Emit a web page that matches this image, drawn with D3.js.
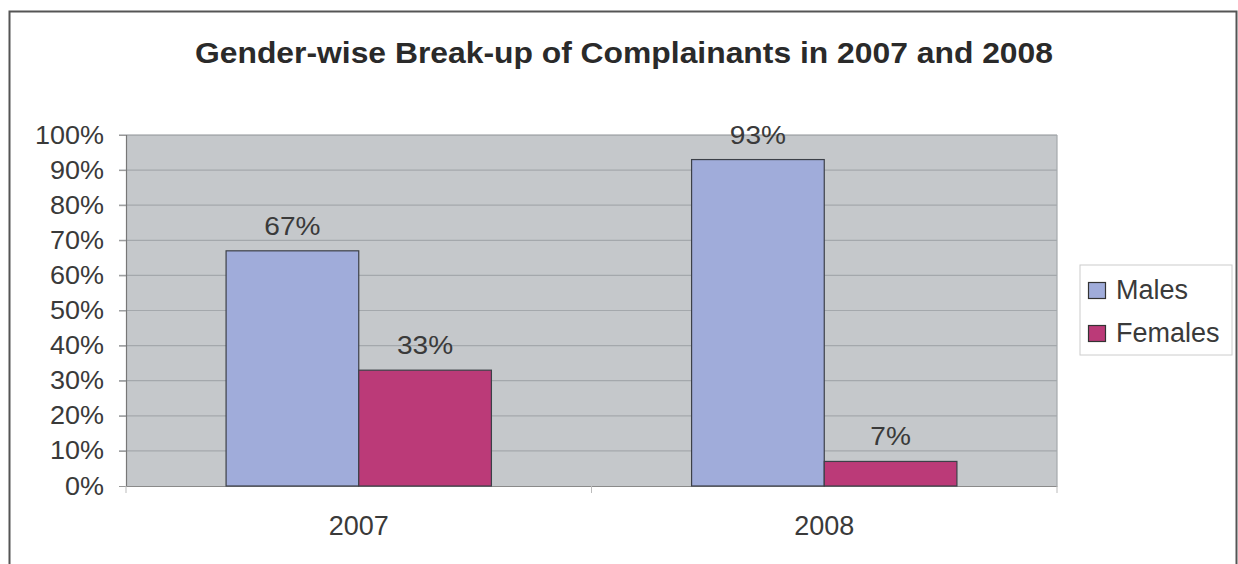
<!DOCTYPE html>
<html>
<head>
<meta charset="utf-8">
<script src="https://cdn.jsdelivr.net/npm/d3@7"></script>
<style>
  html, body { margin: 0; padding: 0; background: #ffffff; }
  svg { display: block; font-family: "Liberation Sans", Arial, sans-serif; }
</style>
</head>
<body>
<svg id="chart" width="1238" height="564"></svg>
<script>
const title = "Gender-wise Break-up of Complainants in 2007 and 2008";
const categories = ["2007", "2008"];
const seriesNames = ["Males", "Females"];
const males = [67, 93];
const females = [33, 7];
const yTicks = [0, 10, 20, 30, 40, 50, 60, 70, 80, 90, 100];
const colors = ["#a0acda", "#bb3a78"];

const svg = d3.select("#chart");
const plot = { left: 126, top: 135, right: 1057, bottom: 486 };
const textColor = "#3a3a3a";

// outer border
svg.append("rect").attr("x", 9.5).attr("y", 11.5).attr("width", 1227).attr("height", 600)
  .attr("fill", "#fff").attr("stroke", "#555").attr("stroke-width", 2);

// title
svg.append("text").attr("x", 624).attr("y", 63).attr("text-anchor", "middle")
  .attr("font-size", 29).attr("font-weight", "bold").attr("fill", "#2a2a2a")
  .attr("textLength", 858).attr("lengthAdjust", "spacingAndGlyphs")
  .text(title);

const x0 = d3.scaleBand().domain(categories).range([plot.left, plot.right]).paddingInner(0.43).paddingOuter(0.215);
const x1 = d3.scaleBand().domain(seriesNames).range([0, x0.bandwidth()]);
const y = d3.scaleLinear().domain([0, 100]).range([plot.bottom, plot.top]);

// plot background
svg.append("rect").attr("x", plot.left).attr("y", plot.top)
  .attr("width", plot.right - plot.left).attr("height", plot.bottom - plot.top)
  .attr("fill", "#c5c8cb");

// gridlines
svg.append("g").selectAll("line").data(yTicks.filter(d => d > 0)).join("line")
  .attr("x1", plot.left - 7).attr("x2", plot.right)
  .attr("y1", d => y(d)).attr("y2", d => y(d))
  .attr("stroke", d => d === 100 ? "#8e9296" : "#a4a8ac").attr("stroke-width", 1.2);

// right border of plot
svg.append("line").attr("x1", plot.right).attr("x2", plot.right).attr("y1", plot.top).attr("y2", plot.bottom)
  .attr("stroke", "#a4a8ac").attr("stroke-width", 1.2);

// y axis
const sy = 1.08;
const yAxis = d3.axisLeft(y).tickValues(yTicks).tickFormat(d => d + "%").tickSize(7).tickPadding(14);
const gy = svg.append("g").attr("transform", `translate(${plot.left},0)`).call(yAxis);
gy.select(".domain").attr("stroke", "#777").attr("stroke-width", 1.2);
gy.selectAll(".tick line").attr("stroke", "#999");
gy.selectAll(".tick text").attr("font-size", 25).attr("fill", textColor)
  .attr("font-family", "Liberation Sans, Arial, sans-serif")
  .attr("transform", `scale(${sy},1)`)
  .each(function() { const t = d3.select(this); t.attr("x", (+t.attr("x") - 1) / sy); });

// x axis
const xAxis = d3.axisBottom(x0).tickSize(0).tickPadding(30);
const gx = svg.append("g").attr("transform", `translate(0,${plot.bottom})`).call(xAxis);
gx.select(".domain").attr("stroke", "#8a8a8a").attr("stroke-width", 1.2);
gx.selectAll(".tick text").attr("font-size", 27).attr("fill", textColor)
  .attr("font-family", "Liberation Sans, Arial, sans-serif");
// category separator ticks
const sepX = [plot.left, (x0(categories[0]) + x0.bandwidth() + x0(categories[1])) / 2, plot.right];
svg.append("g").selectAll("line").data(sepX).join("line")
  .attr("x1", d => d).attr("x2", d => d).attr("y1", plot.bottom).attr("y2", plot.bottom + 7)
  .attr("stroke", "#bbb").attr("stroke-width", 1);

// bars
const rows = categories.map((c, i) => ({ cat: c, vals: [males[i], females[i]] }));
const groups = svg.append("g").selectAll("g").data(rows).join("g")
  .attr("transform", d => `translate(${x0(d.cat)},0)`);
const items = d => d.vals.map((v, j) => ({ s: seriesNames[j], v, j }));
groups.selectAll("rect").data(items).join("rect")
  .attr("x", d => x1(d.s)).attr("y", d => y(d.v))
  .attr("width", x1.bandwidth()).attr("height", d => y(0) - y(d.v))
  .attr("fill", d => colors[d.j]).attr("stroke", "#3c4048").attr("stroke-width", 1.2);
groups.selectAll("text").data(items).join("text")
  .attr("transform", d => `translate(${x1(d.s) + x1.bandwidth() / 2},${y(d.v) - 16}) scale(1.08,1)`)
  .attr("text-anchor", "middle").attr("font-size", 26).attr("fill", textColor)
  .text(d => d.v + "%");

// legend
const lg = svg.append("g");
lg.append("rect").attr("x", 1080).attr("y", 265).attr("width", 152).attr("height", 90)
  .attr("fill", "#fff").attr("stroke", "#ccc").attr("stroke-width", 1);
seriesNames.forEach((s, i) => {
  const yy = 299 + i * 43;
  lg.append("rect").attr("x", 1088.5).attr("y", yy - 16.5).attr("width", 17).attr("height", 16)
    .attr("fill", colors[i]).attr("stroke", "#333").attr("stroke-width", 1.2);
  lg.append("text").attr("x", 1116).attr("y", yy).attr("font-size", 27).attr("fill", textColor)
    .text(s);
});
</script>
</body>
</html>
